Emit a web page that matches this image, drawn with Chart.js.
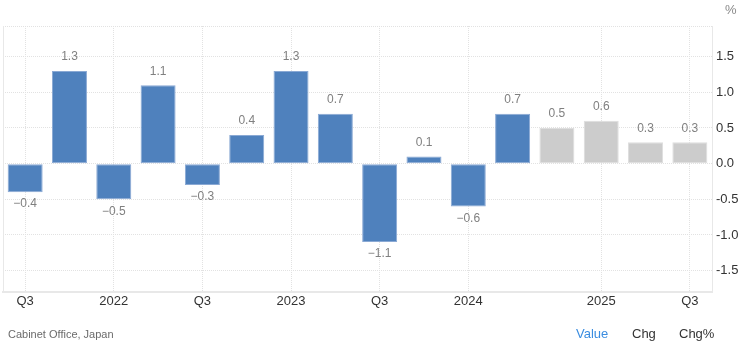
<!DOCTYPE html>
<html>
<head>
<meta charset="utf-8">
<script src="https://cdn.jsdelivr.net/npm/chart.js@4"></script>
<style>
  html, body { margin: 0; padding: 0; background: #fff; overflow: hidden; }
  #wrap { position: relative; width: 742px; height: 345px; font-family: "Liberation Sans", Arial, sans-serif; }
  canvas { position: absolute; left: 0; top: 0; }
  .t { position: absolute; white-space: nowrap; }
</style>
</head>
<body>
<div id="wrap">
  <canvas id="c" width="742" height="345"></canvas>
  <div class="t" style="left:725px;top:2px;font-size:13px;color:#8a8a8a;">%</div>
  <div class="t" style="left:8px;top:328px;font-size:11px;color:#6b6b6b;">Cabinet Office, Japan</div>
  <div class="t" style="left:576px;top:326px;font-size:13px;color:#3b8de0;">Value</div>
  <div class="t" style="left:632px;top:326px;font-size:13px;color:#333;">Chg</div>
  <div class="t" style="left:679px;top:326px;font-size:13px;color:#333;">Chg%</div>
</div>
<script>
const categories = ['2021Q3','2021Q4','2022Q1','2022Q2','2022Q3','2022Q4','2023Q1','2023Q2','2023Q3','2023Q4','2024Q1','2024Q2','2024Q3','2024Q4','2025Q1','2025Q2'];
const values = [-0.4, 1.3, -0.5, 1.1, -0.3, 0.4, 1.3, 0.7, -1.1, 0.1, -0.6, 0.7, 0.5, 0.6, 0.3, 0.3];
const isForecast = [false,false,false,false,false,false,false,false,false,false,false,false,true,true,true,true];
const tickLabels = ['Q3','','2022','','Q3','','2023','','Q3','','2024','','','2025','','Q3'];

const BLUE = '#4f81bd', BLUE_EDGE = '#8aa9d4', GREY = '#cccccc', GREY_EDGE = '#dedede';

const frame = {
  id: 'frame',
  beforeDatasetsDraw(chart) {
    const {ctx, chartArea: a} = chart;
    ctx.save();
    ctx.strokeStyle = '#e8e8e8';
    ctx.lineWidth = 1;
    ctx.beginPath();
    ctx.moveTo(a.left + 0.5, a.top);
    ctx.lineTo(a.left + 0.5, a.bottom);
    ctx.stroke();
    ctx.restore();
  }
};

const labelsPlugin = {
  id: 'valueLabels',
  afterDatasetsDraw(chart) {
    const {ctx} = chart;
    const meta = chart.getDatasetMeta(0);
    ctx.save();
    ctx.font = '12px "Liberation Sans", Arial, sans-serif';
    ctx.fillStyle = '#808080';
    ctx.textAlign = 'center';
    ctx.textBaseline = 'middle';
    meta.data.forEach((bar, i) => {
      const v = values[i];
      const txt = (v < 0 ? '\u2212' : '') + Math.abs(v).toFixed(1);
      const y = v >= 0 ? bar.y - 14 : bar.y + 12;
      ctx.fillText(txt, bar.x, y);
    });
    ctx.restore();
  }
};

new Chart(document.getElementById('c'), {
  type: 'bar',
  data: {
    labels: categories,
    datasets: [{
      data: values,
      backgroundColor: isForecast.map(f => f ? GREY : BLUE),
      borderColor: isForecast.map(f => f ? GREY_EDGE : BLUE_EDGE),
      borderWidth: 1,
      borderSkipped: false,
      categoryPercentage: 1,
      barPercentage: 0.79
    }]
  },
  options: {
    responsive: false,
    animation: false,
    devicePixelRatio: 1,
    layout: { padding: { left: 3, top: 26, right: 0, bottom: 0 } },
    plugins: { legend: { display: false }, tooltip: { enabled: false } },
    scales: {
      x: {
        type: 'category',
        offset: true,
        grid: {
          offset: false,
          drawTicks: false,
          color: (c) => (c.index !== undefined && tickLabels[c.index]) ? '#e2e2e2' : 'rgba(0,0,0,0)'
        },
        border: { display: true, color: '#e8e8e8', width: 2, dash: [1, 1] },
        ticks: {
          autoSkip: false,
          maxRotation: 0,
          padding: 2,
          color: '#333',
          font: { family: '"Liberation Sans", Arial, sans-serif', size: 13 },
          callback: (v, i) => tickLabels[i]
        },
        afterFit: (s) => { s.height = 53; }
      },
      y: {
        position: 'right',
        min: -1.8,
        max: 1.93,
        ticks: {
          stepSize: 0.5,
          padding: 4,
          color: '#333',
          font: { family: '"Liberation Sans", Arial, sans-serif', size: 13 },
          callback: (v) => Math.abs(v * 2 - Math.round(v * 2)) < 1e-6 ? Number(v).toFixed(1) : ''
        },
        grid: { drawTicks: false, color: '#e2e2e2' },
        border: { display: true, color: '#e8e8e8', width: 1, dash: [1, 1] },
        afterFit: (s) => { s.width = 30; }
      }
    }
  },
  plugins: [frame, labelsPlugin]
});
</script>
</body>
</html>
